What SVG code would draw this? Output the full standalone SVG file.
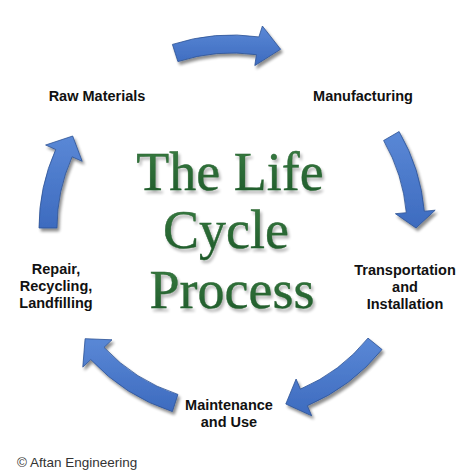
<svg xmlns="http://www.w3.org/2000/svg" width="474" height="474" viewBox="0 0 474 474">
  <defs>
    <linearGradient id="blue" x1="0" y1="0" x2="0" y2="1">
      <stop offset="0" stop-color="#5a88d6"/>
      <stop offset="1" stop-color="#3d6bbf"/>
    </linearGradient>
    <linearGradient id="green" x1="0" y1="0" x2="0" y2="1">
      <stop offset="0" stop-color="#3a7e43"/>
      <stop offset="1" stop-color="#1d5728"/>
    </linearGradient>
    <filter id="shadow" x="-20%" y="-20%" width="140%" height="140%">
      <feGaussianBlur in="SourceAlpha" stdDeviation="1.6"/>
      <feOffset dx="2" dy="2.5" result="b"/>
      <feComponentTransfer><feFuncA type="linear" slope="0.45"/></feComponentTransfer>
      <feMerge><feMergeNode/><feMergeNode in="SourceGraphic"/></feMerge>
    </filter>
    <filter id="tshadow" x="-10%" y="-10%" width="120%" height="130%">
      <feGaussianBlur in="SourceAlpha" stdDeviation="1.5"/>
      <feOffset dx="1.5" dy="2.5"/>
      <feComponentTransfer><feFuncA type="linear" slope="0.3"/></feComponentTransfer>
      <feMerge><feMergeNode/><feMergeNode in="SourceGraphic"/></feMerge>
    </filter>
  </defs>
  <style>
    .arrow { fill: url(#blue); stroke: #2c5294; stroke-width: 0.8; filter: url(#shadow); }
    .lbl { font-family: "Liberation Sans", Arial, sans-serif; font-weight: bold; font-size: 14.5px; fill: #111; text-anchor: middle; }
    .title { font-family: "Liberation Serif", "Times New Roman", serif; font-size: 54px; fill: url(#green); stroke: #26622f; stroke-width: 0.4; text-anchor: middle; filter: url(#tshadow); }
    .copy { font-family: "Liberation Sans", Arial, sans-serif; font-size: 13.5px; fill: #333; }
  </style>
  <rect width="474" height="474" fill="#ffffff"/>

  <g id="connectors">
    <path class="arrow" d="M172.4,44.4 A193,193 0 0,1 258.9,36.9 L262.4,26 L280.6,49.3 L254.8,65.6 L256.4,54.7 A175,175 0 0,0 177.9,61.6 Z"/>
    <path class="arrow" d="M399.1,131.5 A193,193 0 0,1 424.3,211.2 L435.2,210.2 L416,228 L395.4,213.7 L406.3,212.7 A175,175 0 0,0 383.6,140.5 Z"/>
    <path class="arrow" d="M382,349.5 A193,193 0 0,1 307.4,405.7 L311.7,415.8 L285.8,404 L296.1,379 L300.4,389.1 A175,175 0 0,0 368,338.1 Z"/>
    <path class="arrow" d="M172.4,411.6 A193,193 0 0,1 90.8,359.6 L82.8,367.1 L85.1,338.7 L112,339.8 L104,347.4 A175,175 0 0,0 177.9,394.4 Z"/>
    <path class="arrow" d="M39,228 A193,193 0 0,1 55.7,149.5 L45.6,145 L72.7,136 L82.2,161.3 L72.1,156.8 A175,175 0 0,0 57,228 Z"/>
  </g>

  <g id="title">
    <text class="title" x="230" y="190">The Life</text>
    <text class="title" x="226" y="248">Cycle</text>
    <text class="title" x="232" y="308">Process</text>
  </g>

  <g id="raw-materials">
    <text class="lbl" x="97" y="101">Raw Materials</text>
  </g>
  <g id="manufacturing">
    <text class="lbl" x="363" y="101">Manufacturing</text>
  </g>
  <g id="transportation">
    <text class="lbl" x="405" y="275">Transportation</text>
    <text class="lbl" x="405" y="292">and</text>
    <text class="lbl" x="405" y="309">Installation</text>
  </g>
  <g id="maintenance">
    <text class="lbl" x="229" y="410">Maintenance</text>
    <text class="lbl" x="229" y="427">and Use</text>
  </g>
  <g id="repair">
    <text class="lbl" x="56" y="274">Repair,</text>
    <text class="lbl" x="56" y="291">Recycling,</text>
    <text class="lbl" x="56" y="308">Landfilling</text>
  </g>

  <text class="copy" x="17" y="467">© Aftan Engineering</text>
</svg>
